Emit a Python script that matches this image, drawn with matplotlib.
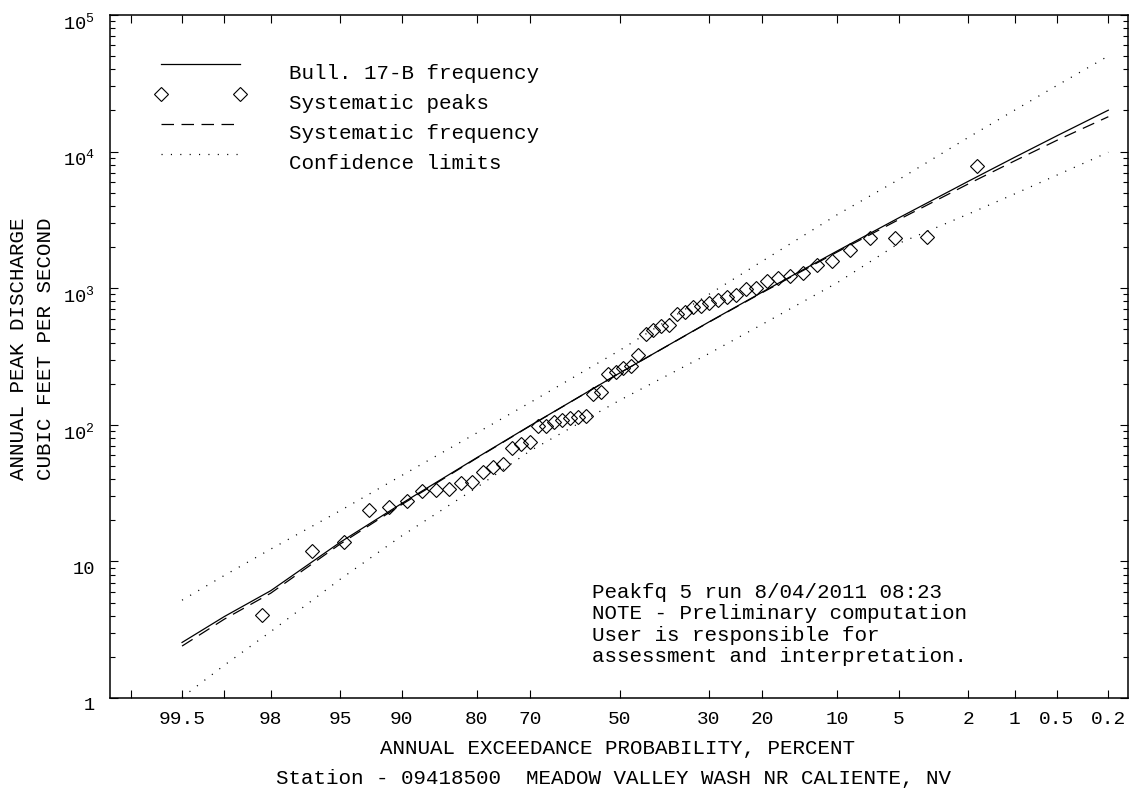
import numpy as np
import matplotlib
matplotlib.use("Agg")
import matplotlib.pyplot as plt
from matplotlib.legend_handler import HandlerLine2D
from matplotlib.transforms import ScaledTranslation
from matplotlib.ticker import FixedLocator, FixedFormatter, NullLocator, LogLocator
from statistics import NormalDist

plt.rcParams['font.family'] = ['Liberation Mono', 'DejaVu Sans Mono']
plt.rcParams['mathtext.fontset'] = 'custom'
plt.rcParams['mathtext.rm'] = 'Liberation Mono'
plt.rcParams['mathtext.it'] = 'Liberation Mono'
plt.rcParams['mathtext.default'] = 'rm'

# ---------------- data ----------------
# annual exceedance probability (percent) at which the frequency curves are given
curve_prob = [99.5, 99, 98, 95, 90, 80, 70, 50, 30, 20, 10, 5, 2, 1, 0.5, 0.2]
bull17b_q = [2.55, 3.95, 6.1, 13.8, 26.6, 57.3, 98.9, 239, 564, 938, 1872, 3275, 6064, 9080, 13060, 20100]
systematic_q = [2.40, 3.78, 5.85, 13.4, 26.1, 56.9, 98.5, 239, 562, 930, 1840, 3180, 5800, 8550, 12100, 18000]
conf_upper = [5.2, 7.9, 12.3, 23.5, 42.6, 87, 146, 350, 898, 1580, 3450, 6250, 12700, 20100, 30500, 50100]
conf_lower = [1.01, 1.74, 3.06, 7.4, 15.4, 34.7, 64.7, 151, 331, 545, 1096, 2130, 3490, 4900, 6730, 9890]

# systematic annual peaks (cfs), ranked from largest to smallest
peaks = [7890, 2383, 2343, 2318, 1905, 1581, 1479, 1298, 1227, 1181,
         1130, 1009, 982, 892, 867, 820, 783, 745, 725, 673,
         648, 538, 529, 494, 462, 324, 269, 259, 245, 235,
         175, 168, 116, 114, 113, 108, 104, 98, 98, 74.5,
         72, 67.3, 51.6, 49.3, 44.9, 38.3, 37.3, 33.7, 33.2, 33.0,
         27.7, 25.2, 23.9, 13.9, 12.0, 4.05]

xtick_prob = [99.8, 99.5, 99, 98, 95, 90, 80, 70, 50, 30, 20, 10, 5, 2, 1, 0.5, 0.2]
xtick_text = ['', '99.5', '', '98', '95', '90', '80', '70', '50', '30', '20', '10', '5', '2', '1', '0.5', '0.2']
ytick_vals = [1, 10, 100, 1000, 10000, 100000]
ytick_text = ['1', '10', r'$10^{2}$', r'$10^{3}$', r'$10^{4}$', r'$10^{5}$']

# Weibull plotting positions for ranked peaks
n = len(peaks)
peak_prob = [100.0 * (i + 1) / (n + 1) for i in range(n)]

# ---------------- probability scale ----------------
_nd = NormalDist()
_ppf = np.vectorize(_nd.inv_cdf, otypes=[float])
_cdf = np.vectorize(_nd.cdf, otypes=[float])


def fwd(p):
    p = np.clip(np.asarray(p, dtype=float), 1e-9, 100 - 1e-9)
    return -_ppf(p / 100.0)


def inv(z):
    z = np.asarray(z, dtype=float)
    return 100.0 * _cdf(-z)


fig = plt.figure(figsize=(11.32, 7.98), dpi=100)
ax = fig.add_axes([110 / 1132, 100 / 798, 1018 / 1132, 683 / 798])
ax.set_xscale('function', functions=(fwd, inv))
ax.set_yscale('log')

lw = 0.9
ax.plot(curve_prob, bull17b_q, color='black', lw=lw, label='Bull. 17-B frequency')
ax.plot(peak_prob, peaks, linestyle='none', marker='D', ms=7.2, mfc='none', mec='black',
        mew=0.8, label='Systematic peaks')
ax.plot(curve_prob, systematic_q, color='black', lw=lw, linestyle=(0, (10, 6)),
        label='Systematic frequency')
ax.plot(curve_prob, conf_upper, color='black', lw=lw, linestyle=(0, (0.9, 6.6)),
        label='Confidence limits')
ax.plot(curve_prob, conf_lower, color='black', lw=lw, linestyle=(0, (0.9, 6.6)))

ax.set_xlim(float(inv(2.994)), float(inv(-3.0)))
ax.set_ylim(1, 1e5)

ax.xaxis.set_major_locator(FixedLocator(xtick_prob))
ax.xaxis.set_major_formatter(FixedFormatter(xtick_text))
ax.xaxis.set_minor_locator(NullLocator())
ax.yaxis.set_major_locator(FixedLocator(ytick_vals))
ax.yaxis.set_major_formatter(FixedFormatter(ytick_text))
ax.yaxis.set_minor_locator(LogLocator(base=10, subs=np.arange(2, 10), numticks=20))

ax.tick_params(which='both', direction='in', top=True, right=True, width=0.8)
ax.tick_params(which='major', length=5.8)
ax.tick_params(which='minor', length=3.6)
ax.tick_params(axis='x', labelsize=14, pad=9)
ax.tick_params(axis='y', labelsize=13.5, pad=11)
for lab in ax.get_yticklabels():
    lab.set_transform(lab.get_transform() + ScaledTranslation(0, -6 / 100, fig.dpi_scale_trans))
for sp in ax.spines.values():
    sp.set_linewidth(1.1)


class UpHandler(HandlerLine2D):
    def create_artists(self, legend, orig_handle, xdescent, ydescent, width, height, fontsize, trans):
        arts = super().create_artists(legend, orig_handle, xdescent, ydescent, width, height,
                                      fontsize, trans)
        for a in arts:
            a.set_ydata(np.asarray(a.get_ydata(), dtype=float) + 0.38 * fontsize)
        return arts


handles, labels = ax.get_legend_handles_labels()
leg = ax.legend(handles, labels, loc='upper left', bbox_to_anchor=(45 / 1018, 1 - 49 / 683),
                frameon=False, fontsize=15, numpoints=2, handlelength=4.4, handletextpad=2.05,
                labelspacing=0.53, borderpad=0, borderaxespad=0,
                handler_map={h: UpHandler(numpoints=2) for h in handles})

ax.text((592 - 110) / 1018, 1 - (583 - 15) / 683,
        "Peakfq 5 run 8/04/2011 08:23\nNOTE - Preliminary computation\n"
        "User is responsible for\nassessment and interpretation.",
        transform=ax.transAxes, fontsize=15, va='top', ha='left', linespacing=1.16)

fig.text(617 / 1132, 1 - 748 / 798, "ANNUAL EXCEEDANCE PROBABILITY, PERCENT",
         ha='center', va='center', fontsize=15)
fig.text(614 / 1132, 1 - 778 / 798, "Station - 09418500  MEADOW VALLEY WASH NR CALIENTE, NV",
         ha='center', va='center', fontsize=15)
fig.text(19 / 1132, 1 - 349 / 798, "ANNUAL PEAK DISCHARGE", rotation=90,
         ha='center', va='center', fontsize=15)
fig.text(46 / 1132, 1 - 349 / 798, "CUBIC FEET PER SECOND", rotation=90,
         ha='center', va='center', fontsize=15)

fig.savefig("out.png", dpi=100)
